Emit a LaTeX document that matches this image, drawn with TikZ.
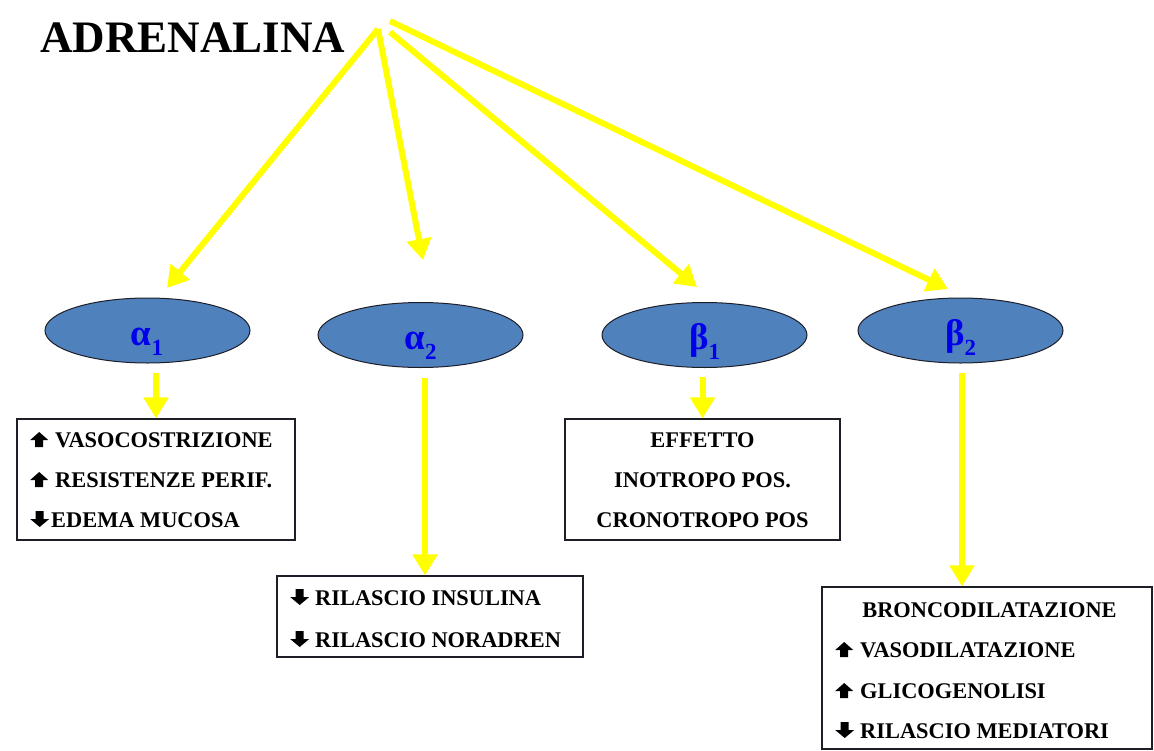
\documentclass[tikz,border=0pt]{standalone}
\usepackage{fontspec}
\setmainfont{Liberation Serif}
\usetikzlibrary{shapes.geometric,arrows.meta,calc}
\definecolor{ylw}{RGB}{255,255,0}
\definecolor{ellblue}{RGB}{79,129,189}
\definecolor{grk}{RGB}{0,0,235}
\definecolor{edge}{RGB}{30,30,40}
\newcommand{\UpA}{\tikz[baseline=0pt,x=1pt,y=1pt]\fill[black] (-4,0) -- (4,0) -- (4,7) -- (9,7) -- (0,15) -- (-9,7) -- (-4,7) -- cycle;}
\newcommand{\DnA}{\tikz[baseline=0pt,x=1pt,y=1pt]\fill[black] (-4,16) -- (4,16) -- (4,8) -- (9.5,8) -- (0,0) -- (-9.5,8) -- (-4,8) -- cycle;}
\newcommand{\grkl}[2]{{\fontsize{37}{37}\selectfont\bfseries #1\raisebox{-10pt}{\fontsize{23}{23}\selectfont #2}}}
\tikzset{
  arr/.style={draw=ylw, line width=6pt, -{Triangle[length=21pt,width=24pt]}},
  recep/.style={ellipse, draw=edge, line width=1pt, fill=ellblue, minimum width=205pt, minimum height=65pt, inner sep=0pt},
  grklbl/.style={anchor=base, inner sep=0pt, text=grk},
  effbox/.style={rectangle, draw=edge, line width=1.2pt, inner sep=0pt},
  eff/.style={inner sep=0pt, font=\fontsize{22.4}{22.4}\selectfont\bfseries},
}
\begin{document}
\begin{tikzpicture}[x=1pt,y=-1pt]
\useasboundingbox (0,0) rectangle (1154,750);
% title
\node[anchor=base west, inner sep=0pt, font=\fontsize{45}{45}\selectfont\bfseries] (title) at (40,52) {ADRENALINA};
% fan origin and tips
\coordinate (o1) at (378,29);
\coordinate (o2) at (390,32);
\coordinate (o3) at (390,21);
\coordinate (t1) at (167,288);
\coordinate (t2) at (423,260);
\coordinate (t3) at (697,287);
\coordinate (t4) at (948,289);
% receptors
\node[recep] (a1) at (147.5,330.5) {};
\node[recep] (a2) at (420.5,335) {};
\node[recep] (c1) at (704.5,335) {};
\node[recep] (c2) at (960.5,330.5) {};
\node[grklbl] (a1l) at (147,345) {\grkl{α}{1}};
\node[grklbl] (a2l) at (420.5,349) {\grkl{α}{2}};
\node[grklbl] (c1l) at (704.5,349) {\grkl{β}{1}};
\node[grklbl] (c2l) at (960.5,345) {\grkl{β}{2}};
% effect boxes
\node[effbox, minimum width=278pt, minimum height=121pt] (b1) at (156,479.5) {};
\node[effbox, minimum width=306pt, minimum height=81pt] (b2) at (430,616.5) {};
\node[effbox, minimum width=275pt, minimum height=121pt] (d1) at (702.5,479.5) {};
\node[effbox, minimum width=330pt, minimum height=162pt] (d2) at (987,668) {};
% box texts alpha1
\node[eff, anchor=base west] (b1a) at (30,447) {\UpA\hspace{7pt}VASOCOSTRIZIONE};
\node[eff, anchor=base west] (b1b) at (30,487) {\UpA\hspace{7pt}RESISTENZE PERIF.};
\node[eff, anchor=base west] (b1c) at (30,527) {\DnA\hspace{2pt}EDEMA MUCOSA};
% alpha2
\node[eff, anchor=base west] (b2a) at (290,605) {\DnA\hspace{6pt}RILASCIO INSULINA};
\node[eff, anchor=base west] (b2b) at (290,647) {\DnA\hspace{6pt}RILASCIO NORADREN};
% beta1
\node[eff, anchor=base] (d1a) at (702.5,447) {EFFETTO};
\node[eff, anchor=base] (d1b) at (702.5,487) {INOTROPO POS.};
\node[eff, anchor=base] (d1c) at (702.5,527) {CRONOTROPO POS};
% beta2
\node[eff, anchor=base] (d2a) at (989.5,617) {BRONCODILATAZIONE};
\node[eff, anchor=base west] (d2b) at (835,657) {\UpA\hspace{7pt}VASODILATAZIONE};
\node[eff, anchor=base west] (d2c) at (835,698) {\UpA\hspace{7pt}GLICOGENOLISI};
\node[eff, anchor=base west] (d2d) at (835,738) {\DnA\hspace{6pt}RILASCIO MEDIATORI};
% fan arrows
\draw[arr] (o1) -- (t1);
\draw[arr] (o1) -- (t2);
\draw[arr] (o2) -- (t3);
\draw[arr] (o3) -- (t4);
% downward arrows
\draw[arr] ([yshift=-9pt]a1.south -| b1.north) -- (b1.north);
\draw[arr] ([xshift=4.5pt,yshift=-10pt]a2.south) -- ([xshift=4.5pt]a2.south |- b2.north);
\draw[arr] ([yshift=-9pt]c1.south -| d1.north) -- (d1.north);
\draw[arr] ([xshift=1.5pt,yshift=-9pt]c2.south) -- ([xshift=1.5pt]c2.south |- d2.north);
\end{tikzpicture}
\end{document}
